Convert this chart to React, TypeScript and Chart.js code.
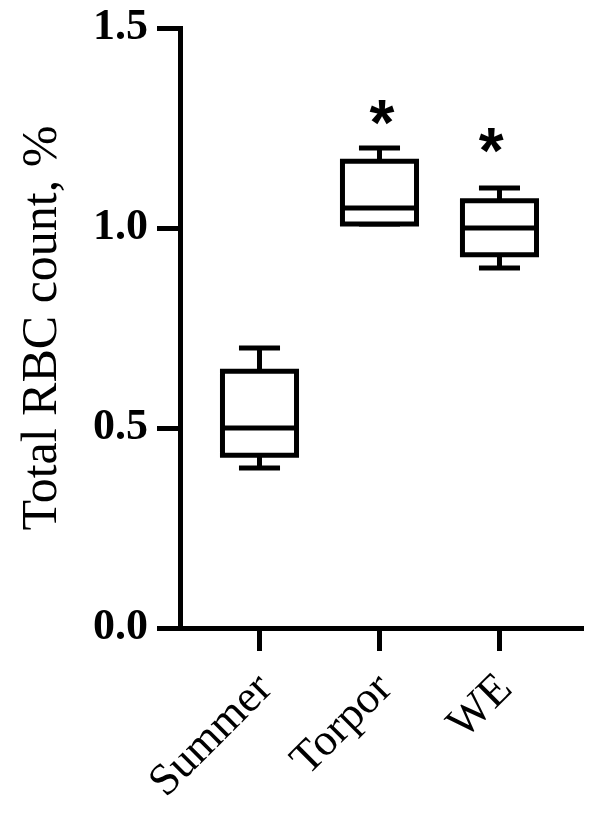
import React, { useEffect, useRef } from "react";
import { Chart, registerables } from "chart.js";

Chart.register(...registerables);

// ---- data ----
const categories = ["Summer", "Torpor", "WE"];
const whiskerMin = [0.4, 1.01, 0.9];
const q1 = [0.432, 1.01, 0.933];
const median = [0.5, 1.05, 1.0];
const q3 = [0.642, 1.167, 1.068];
const whiskerMax = [0.7, 1.2, 1.1];
const yTicks = [0, 0.5, 1.0, 1.5];
// significance marks: [category position, value]
const starX = [1.02, 1.93];
const starY = [1.29, 1.22];
const starText = ["*", "*"];

const BOX_W = 0.617; // in category units
const CAP_W = 0.342;

const boxPlugin = {
  id: "boxes",
  afterDatasetsDraw(chart: any) {
    const { ctx } = chart;
    const x = chart.scales.x;
    const y = chart.scales.y;
    ctx.save();
    ctx.strokeStyle = "#000";
    ctx.fillStyle = "#fff";
    ctx.lineWidth = 5;
    ctx.lineCap = "butt";
    ctx.lineJoin = "miter";
    categories.forEach((_, i) => {
      const cx = x.getPixelForValue(i);
      const bl = x.getPixelForValue(i - BOX_W / 2);
      const br = x.getPixelForValue(i + BOX_W / 2);
      const cl = x.getPixelForValue(i - CAP_W / 2);
      const cr = x.getPixelForValue(i + CAP_W / 2);
      const pMin = y.getPixelForValue(whiskerMin[i]);
      const pMax = y.getPixelForValue(whiskerMax[i]);
      const pQ1 = y.getPixelForValue(q1[i]);
      const pQ3 = y.getPixelForValue(q3[i]);
      const pMed = y.getPixelForValue(median[i]);
      ctx.beginPath();
      ctx.moveTo(cx, pQ3);
      ctx.lineTo(cx, pMax);
      ctx.moveTo(cl, pMax);
      ctx.lineTo(cr, pMax);
      ctx.moveTo(cx, pQ1);
      ctx.lineTo(cx, pMin);
      ctx.moveTo(cl, pMin);
      ctx.lineTo(cr, pMin);
      ctx.stroke();
      ctx.beginPath();
      ctx.rect(bl, pQ3, br - bl, pQ1 - pQ3);
      ctx.fill();
      ctx.stroke();
      ctx.beginPath();
      ctx.moveTo(bl, pMed);
      ctx.lineTo(br, pMed);
      ctx.stroke();
    });
    ctx.fillStyle = "#000";
    ctx.font = 'bold 64px "Liberation Sans"';
    ctx.textAlign = "center";
    ctx.textBaseline = "alphabetic";
    starText.forEach((t, k) => {
      const px = x.getPixelForValue(starX[k]);
      const py = y.getPixelForValue(starY[k]);
      const m = ctx.measureText(t);
      const a = m.actualBoundingBoxAscent;
      const d = m.actualBoundingBoxDescent;
      ctx.fillText(t, px, py + (a - d) / 2);
    });
    ctx.restore();
  },
};

export default function App() {
  const ref = useRef<HTMLCanvasElement>(null);
  useEffect(() => {
    const canvas = ref.current!;
    const axisGrid = {
      drawOnChartArea: false,
      drawTicks: true,
      tickLength: 23,
      tickWidth: 5,
      tickColor: "#000",
    };
    const chart = new Chart(canvas, {
      type: "scatter",
      data: { datasets: [] },
      plugins: [boxPlugin],
      options: {
        responsive: false,
        animation: false,
        layout: { padding: { top: 28, right: 16, left: 0, bottom: 0 } },
        plugins: { legend: { display: false }, tooltip: { enabled: false } },
        scales: {
          x: {
            type: "linear",
            min: -0.6625,
            max: 2.696,
            afterBuildTicks: (s: any) => {
              s.ticks = categories.map((_, i) => ({ value: i }));
            },
            afterFit: (s: any) => {
              s.height = 185;
              s.paddingLeft = 0;
              s.paddingRight = 0;
            },
            ticks: {
              callback: (v: any) => categories[v] ?? "",
              minRotation: 45,
              maxRotation: 45,
              autoSkip: false,
              labelOffset: 6,
              padding: 12,
              color: "#000",
              font: { family: '"Liberation Serif"', size: 45 },
            },
            grid: axisGrid,
            border: { display: true, width: 5, color: "#000" },
          },
          y: {
            type: "linear",
            min: 0,
            max: 1.5,
            afterBuildTicks: (s: any) => {
              s.ticks = yTicks.map((v) => ({ value: v }));
            },
            afterFit: (s: any) => {
              s.width = 180;
              s.paddingTop = 0;
              s.paddingBottom = 0;
            },
            ticks: {
              callback: (v: any) => Number(v).toFixed(1),
              padding: 9,
              color: "#000",
              font: { family: '"Liberation Serif"', size: 44, weight: "bold" },
            },
            grid: axisGrid,
            border: { display: true, width: 5, color: "#000" },
            title: {
              display: true,
              text: "Total RBC count, %",
              color: "#000",
              font: { family: '"Liberation Serif"', size: 50 },
              padding: { top: 13, bottom: 0 },
            },
          },
        },
      },
    });
    return () => chart.destroy();
  }, []);
  return (
    <canvas
      ref={ref}
      width={599}
      height={813}
      style={{ position: "fixed", left: 0, top: 0, display: "block", background: "#fff" }}
    />
  );
}
